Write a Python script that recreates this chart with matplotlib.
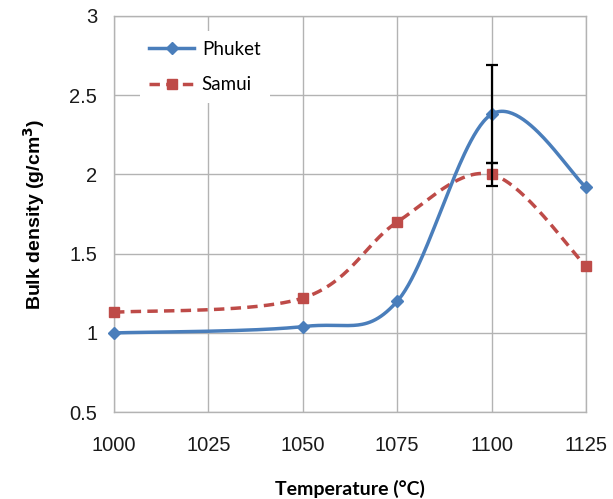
import numpy as np
import matplotlib
matplotlib.use('Agg')
import matplotlib.pyplot as plt

# data
temperature = [1000, 1050, 1075, 1100, 1125]
phuket = [1.00, 1.04, 1.20, 2.38, 1.92]
samui = [1.13, 1.22, 1.70, 2.00, 1.42]
phuket_err = [0, 0, 0, 0.31, 0]
samui_err = [0, 0, 0, 0.07, 0]

x_ticks = [1000, 1025, 1050, 1075, 1100, 1125]
y_ticks = [0.5, 1, 1.5, 2, 2.5, 3]

BLUE = '#4A7EBB'
RED = '#BE4B48'
GRID = '#B3B3B3'


def smooth_curve(xs, ys, n=60):
    """Excel-like smoothed line: Catmull-Rom segments as cubic Beziers."""
    p = np.column_stack([xs, ys]).astype(float)
    out = []
    for i in range(len(p) - 1):
        p0 = p[i - 1] if i > 0 else p[i]
        p1, p2 = p[i], p[i + 1]
        p3 = p[i + 2] if i + 2 < len(p) else p[i + 1]
        c1 = p1 + (p2 - p0) / 6
        c2 = p2 - (p3 - p1) / 6
        t = np.linspace(0, 1, n)[:, None]
        seg = ((1 - t) ** 3) * p1 + 3 * ((1 - t) ** 2) * t * c1 + 3 * (1 - t) * t ** 2 * c2 + t ** 3 * p2
        out.append(seg if i == 0 else seg[1:])
    out = np.vstack(out)
    return out[:, 0], out[:, 1]


fig = plt.figure(figsize=(6.13, 4.99), dpi=100)
ax = fig.add_axes([0.186, 0.174, 0.770, 0.794])

sx, sy = smooth_curve(temperature, samui)
ax.plot(sx, sy, color=RED, lw=2.5, linestyle=(0, (3, 1.8)), zorder=3, clip_on=False)
ax.plot(temperature, samui, linestyle='none', marker='s', ms=7, color=RED, zorder=4, clip_on=False)

px, py = smooth_curve(temperature, phuket)
ax.plot(px, py, color=BLUE, lw=2.5, zorder=3, clip_on=False)
ax.plot(temperature, phuket, linestyle='none', marker='D', ms=6.5, color=BLUE, zorder=4, clip_on=False)

# error bars only where given
for vals, errs in [(phuket, phuket_err), (samui, samui_err)]:
    xs = [t for t, e in zip(temperature, errs) if e > 0]
    ys = [v for v, e in zip(vals, errs) if e > 0]
    es = [e for e in errs if e > 0]
    ax.errorbar(xs, ys, yerr=es, fmt='none', ecolor='black', elinewidth=1.6,
                capsize=4, capthick=1.6, zorder=5)

# legend handles
h1, = ax.plot([], [], color=BLUE, lw=2.5, marker='D', ms=6.5, label='Phuket')
h2, = ax.plot([], [], color=RED, lw=2.5, linestyle=(0, (3, 1.8)), marker='s', ms=7, label='Samui')
leg = ax.legend(handles=[h1, h2], loc='upper left', bbox_to_anchor=(0.035, 0.985),
                frameon=True, fancybox=False, handlelength=2.4, handletextpad=0.4,
                labelspacing=1.0, borderpad=0.5, prop={'family': 'Lato', 'size': 13.5})
leg.get_frame().set_facecolor('white')
leg.get_frame().set_edgecolor('none')
leg.get_frame().set_alpha(1)
leg.set_zorder(6)

ax.set_xlim(1000, 1125)
ax.set_ylim(0.5, 3)
ax.set_xticks(x_ticks)
ax.set_yticks(y_ticks)
ax.set_yticklabels(['0.5', '1', '1.5', '2', '2.5', '3'])
ax.tick_params(length=0, labelsize=14.5, colors='#1a1a1a')
ax.tick_params(axis='x', pad=17)
ax.tick_params(axis='y', pad=12)
for lab in ax.get_xticklabels() + ax.get_yticklabels():
    lab.set_family('Liberation Sans')

ax.grid(True, color=GRID, lw=1)
ax.set_axisbelow(True)
for s in ax.spines.values():
    s.set_color(GRID)
    s.set_linewidth(1)

ax.set_xlabel('Temperature (°C)', fontsize=14, fontweight='bold', family='Lato', labelpad=18)
ax.set_ylabel('Bulk density (g/cm$^\\mathbf{3}$)', fontsize=14, fontweight='bold',
              family='Liberation Sans', labelpad=16)

fig.savefig('out.png', dpi=100)
